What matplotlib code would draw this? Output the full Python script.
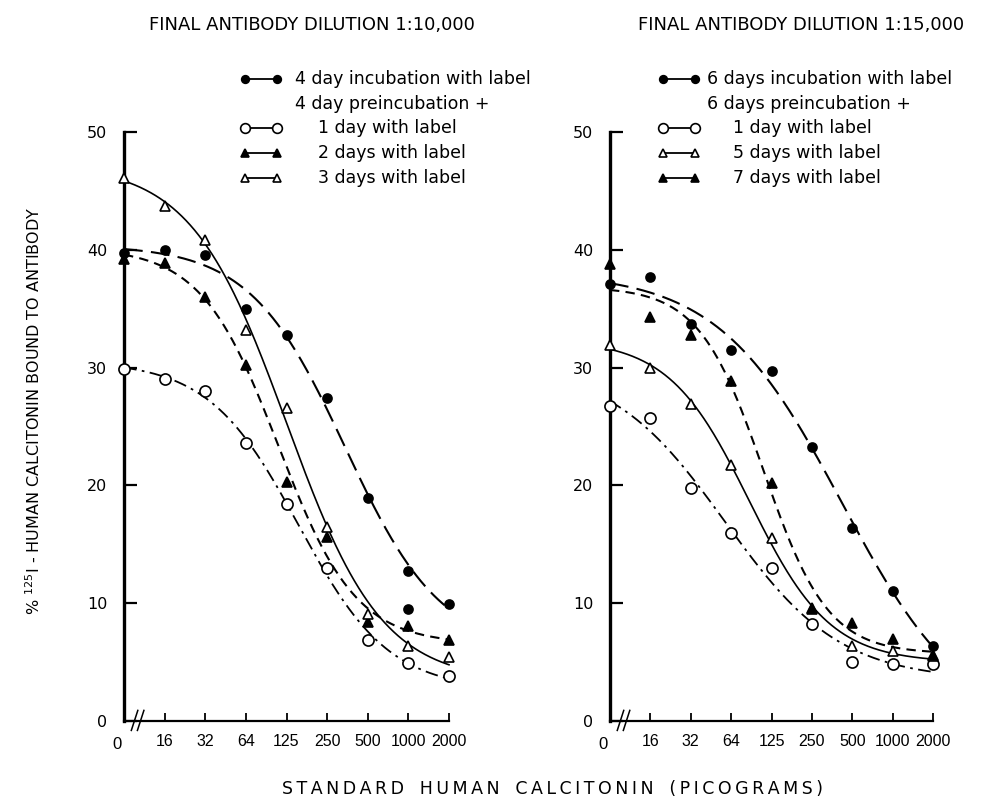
import numpy as np
import matplotlib
matplotlib.use("Agg")
import matplotlib.pyplot as plt
from matplotlib.lines import Line2D

# Standard doses (picograms); plotted at equally spaced positions
doses = ["0", "16", "32", "64", "125", "250", "500", "1000", "2000"]

# Final antibody dilution 1:10,000
left_incub_4d = [39.7, 40.0, 39.6, 35.0, 32.8, 27.4, 18.9, 12.7, 9.9]
left_incub_4d_extra = [None, None, None, None, None, None, None, 9.5, None]
left_pre_1d = [29.9, 29.0, 28.0, 23.6, 18.4, 13.0, 6.9, 4.9, 3.8]
left_pre_2d = [39.2, 38.9, 36.0, 30.2, 20.3, 15.6, 8.4, 8.1, 6.9]
left_pre_3d = [46.1, 43.7, 40.8, 33.2, 26.6, 16.5, 9.1, 6.4, 5.4]

# Final antibody dilution 1:15,000
right_incub_6d = [37.1, 37.7, 33.7, 31.5, 29.7, 23.3, 16.4, 11.0, 6.4]
right_pre_1d = [26.7, 25.7, 19.8, 16.0, 13.0, 8.2, 5.0, 4.8, 4.8]
right_pre_5d = [31.9, 30.0, 26.9, 21.7, 15.5, 9.6, 6.4, 5.9, 5.5]
right_pre_7d = [38.8, 34.3, 32.8, 28.9, 20.2, 9.5, 8.3, 7.0, 5.6]

titles = ["FINAL ANTIBODY DILUTION 1:10,000", "FINAL ANTIBODY DILUTION 1:15,000"]
left_legend = ["4 day incubation with label", "4 day preincubation +",
               "1 day with label", "2 days with label", "3 days with label"]
right_legend = ["6 days incubation with label", "6 days preincubation +",
                "1 day with label", "5 days with label", "7 days with label"]
y_label = r"% $^{125}$I - HUMAN CALCITONIN BOUND TO ANTIBODY"
x_label = "STANDARD HUMAN CALCITONIN (PICOGRAMS)"

plt.rcParams["font.family"] = ["DejaVu Sans"]
W, H = 981, 797
fig = plt.figure(figsize=(W / 100, H / 100), dpi=100)
fig.patch.set_facecolor("white")

K = "black"
TICK_FONT = ["Liberation Sans", "DejaVu Sans"]
STYLES = {
    "incub": dict(ls=(0, (9, 4)), lw=1.5, marker="o", mfc=K, ms=6.5),
    "day1": dict(ls=(0, (7, 3, 1.5, 3)), lw=1.3, marker="o", mfc="white", ms=8),
    "tri_f": dict(ls=(0, (4.5, 3)), lw=1.5, marker="^", mfc=K, ms=7),
    "tri_o": dict(ls="-", lw=1.2, marker="^", mfc="white", ms=7),
}


def logistic_fit(x, y):
    """Four-parameter logistic fit; slope/midpoint by grid, plateaus by least squares."""
    x = np.asarray(x, float)
    y = np.asarray(y, float)
    best = None
    for b in np.linspace(0.3, 3.0, 55):
        for c in np.linspace(0.0, 9.0, 181):
            s = 1.0 / (1.0 + np.exp((x - c) * b))
            A = np.column_stack([s, 1 - s])
            coef, *_ = np.linalg.lstsq(A, y, rcond=None)
            r = np.sum((A @ coef - y) ** 2)
            if best is None or r < best[0]:
                best = (r, b, c, coef)
    _, b, c, (a, d) = best
    return lambda t: d + (a - d) / (1.0 + np.exp((t - c) * b))


def draw_series(ax, values, style, extra=None):
    st = STYLES[style]
    x = np.arange(len(values))
    # smooth curve fitted to the main readings
    f = logistic_fit(x, values)
    t = np.linspace(0, len(values) - 1, 300)
    ax.plot(t, f(t), color=K, ls=st["ls"], lw=st["lw"], clip_on=False, zorder=2)
    xs, ys = list(x), list(values)
    if extra is not None:
        for i, v in enumerate(extra):
            if v is not None:
                xs.append(i)
                ys.append(v)
    ax.plot(xs, ys, ls="none", marker=st["marker"], mfc=st["mfc"], mec=K,
            mew=1.2, ms=st["ms"], clip_on=False, zorder=3)


def setup_axes(ax):
    ax.set_xlim(0, 8)
    ax.set_ylim(0, 50)
    for s in ("top", "right"):
        ax.spines[s].set_visible(False)
    ax.spines["left"].set_linewidth(2.4)
    ax.spines["bottom"].set_linewidth(1.6)
    ax.set_yticks(np.arange(0, 51, 10))
    ax.set_yticklabels([str(v) for v in range(0, 51, 10)], fontsize=11.5)
    ax.set_xticks(np.arange(1, 9))
    ax.set_xticklabels(doses[1:], fontsize=11.5, family=TICK_FONT)
    ax.tick_params(axis="y", direction="in", length=9, width=1.6, pad=12)
    ax.tick_params(axis="x", direction="in", length=6, width=1.3, pad=9)
    ax.text(-0.17, -0.028, doses[0], transform=ax.get_xaxis_transform(),
            ha="center", va="top", fontsize=12, family=TICK_FONT)
    # axis break marks near the origin
    for dx in (0.18, 0.33):
        ax.plot([dx, dx + 0.16], [-0.8, 0.9], color=K, lw=1.1, clip_on=False)
    ax.patch.set_alpha(0)


def px(x, y):
    return x / W, 1 - y / H


ax1 = fig.add_axes([124 / W, (H - 721) / H, (449 - 124) / W, (721 - 132) / H])
ax2 = fig.add_axes([610 / W, (H - 721) / H, (933 - 610) / W, (721 - 132) / H])
for ax in (ax1, ax2):
    setup_axes(ax)

draw_series(ax1, left_incub_4d, "incub", extra=left_incub_4d_extra)
draw_series(ax1, left_pre_1d, "day1")
draw_series(ax1, left_pre_2d, "tri_f")
draw_series(ax1, left_pre_3d, "tri_o")

draw_series(ax2, right_incub_6d, "incub")
draw_series(ax2, right_pre_1d, "day1")
draw_series(ax2, right_pre_5d, "tri_o")
draw_series(ax2, right_pre_7d, "tri_f")

# Titles
fig.text(*px(312, 25), titles[0], ha="center", va="center", fontsize=13)
fig.text(*px(801, 25), titles[1], ha="center", va="center", fontsize=13)

# Legends
rows_y = [79, 104, 128, 153, 178]


def legend_block(x0, x1, xt1, xt2, labels, keys):
    for i, (lab, key) in enumerate(zip(labels, keys)):
        y = rows_y[i]
        if key is not None:
            st = STYLES[key]
            xa, ya = px(x0, y)
            xb, _ = px(x1, y)
            fig.add_artist(Line2D([xa, xb], [ya, ya], transform=fig.transFigure,
                                  color=K, lw=1.3, marker=st["marker"],
                                  mfc=st["mfc"], mec=K, mew=1.2,
                                  ms=st["ms"] - 1))
        xt = xt1 if i < 2 else xt2
        fig.text(*px(xt, y), lab, ha="left", va="center", fontsize=12.5)


legend_block(245, 277, 295, 318, left_legend, ["incub", None, "day1", "tri_f", "tri_o"])
legend_block(663, 695, 707, 733, right_legend, ["incub", None, "day1", "tri_o", "tri_f"])

# Axis labels
fig.text(*px(34, 411), y_label, rotation=90, ha="center", va="center", fontsize=11.5)
spaced = "\u2009".join(x_label.replace(" ", "\u2002"))
fig.text(*px(553, 789), spaced, ha="center", va="center", fontsize=12.5)

fig.savefig("out.png", dpi=100, facecolor="white")
